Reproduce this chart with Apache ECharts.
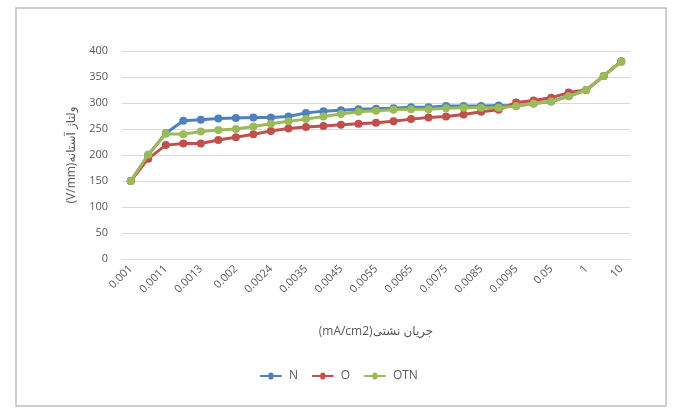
<!DOCTYPE html>
<html>
<head>
<meta charset="utf-8">
<script src="https://cdn.jsdelivr.net/npm/echarts@6/dist/echarts.min.js"></script>
<style>
html,body{margin:0;padding:0;background:#fff;}
#chart{width:678px;height:411px;}
</style>
</head>
<body>
<div id="chart"></div>
<script>
var categories = ['0.001','0.00105','0.0011','0.0012','0.0013','0.0015','0.002','0.0022','0.0024','0.003','0.0035','0.004','0.0045','0.005','0.0055','0.006','0.0065','0.007','0.0075','0.008','0.0085','0.009','0.0095','0.01','0.05','0.1','1','5','10'];
var seriesN   = [150, 200, 242, 266, 268, 270, 271, 272, 272, 274, 281, 284, 286, 288, 289, 290, 292, 292, 294, 294, 294, 295, 294, 299, 303, 313, 325, 352, 380];
var seriesO   = [150, 193, 219, 222, 222, 229, 234, 240, 246, 251, 254, 256, 258, 260, 262, 265, 269, 272, 274, 278, 283, 287, 301, 305, 310, 320, 325, 352, 380];
var seriesOTN = [150, 201, 241, 240, 245, 248, 250, 255, 260, 265, 269, 274, 279, 283, 285, 287, 288, 288, 290, 291, 291, 291, 294, 299, 303, 313, 325, 352, 380];
var seriesNames = ['N', 'O', 'OTN'];
var yTitle = '(V/mm)ولتاژ آستانه';
var xTitle = '(mA/cm2)جریان نشتی';

var chart = echarts.init(document.getElementById('chart'), null, {renderer: 'canvas'});
var font = '"Open Sans", "DejaVu Sans", sans-serif';
var colors = ['#4F81BD', '#C0504D', '#9BBB59'];
function mk(name, data, i) {
  return {
    name: name, type: 'line', data: data,
    symbol: 'circle', symbolSize: 8,
    lineStyle: {width: 3, color: colors[i]},
    itemStyle: {color: colors[i]},
    z: 2 + i
  };
}
chart.setOption({
  animation: false,
  backgroundColor: '#fff',
  graphic: [{
    type: 'rect', shape: {x: 16, y: 8, width: 650, height: 398},
    style: {fill: 'none', stroke: '#BFBFBF', lineWidth: 1.5}, z: -1
  }],
  grid: {left: 122, right: 48, top: 51, bottom: 152},
  legend: {
    bottom: 24, left: 'center', itemWidth: 34, itemHeight: 7, itemGap: 14,
    icon: 'path://M0,2 L13,2 A3.5,3.5 0 0 1 21,2 L34,2 L34,5 L21,5 A3.5,3.5 0 0 1 13,5 L0,5 Z',
    textStyle: {color: '#595959', fontSize: 12, fontFamily: font, padding: [0,0,0,-4]},
    data: seriesNames
  },
  xAxis: {
    type: 'category', data: categories, boundaryGap: true,
    axisLine: {lineStyle: {color: '#D9D9D9'}},
    axisTick: {show: false},
    axisLabel: {interval: 1, rotate: 45, color: '#595959', fontSize: 11, fontFamily: font, margin: 8},
    name: xTitle, nameLocation: 'middle', nameGap: 67,
    nameTextStyle: {color: '#595959', fontSize: 12, fontFamily: font}
  },
  yAxis: {
    type: 'value', min: 0, max: 400, interval: 50,
    axisLine: {show: false}, axisTick: {show: false},
    splitLine: {lineStyle: {color: '#D9D9D9'}},
    axisLabel: {color: '#595959', fontSize: 11, fontFamily: font, margin: 14},
    name: yTitle, nameLocation: 'middle', nameGap: 44, nameRotate: 90,
    nameTextStyle: {color: '#595959', fontSize: 12, fontFamily: font}
  },
  series: [mk(seriesNames[0], seriesN, 0), mk(seriesNames[1], seriesO, 1), mk(seriesNames[2], seriesOTN, 2)]
});
</script>
</body>
</html>
